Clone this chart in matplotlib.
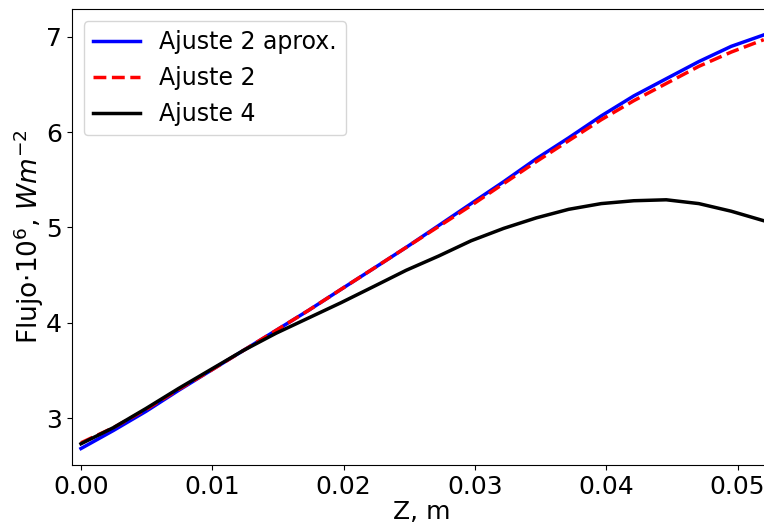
import matplotlib
matplotlib.use("Agg")
import matplotlib.pyplot as plt

z = [0.0, 0.00248, 0.00495, 0.00743, 0.0099, 0.01238, 0.01486, 0.01733,
     0.0198, 0.02229, 0.02476, 0.02724, 0.02971, 0.03219, 0.03467, 0.03714,
     0.03962, 0.0421, 0.04457, 0.04705, 0.04952, 0.052]

ajuste2_aprox = [2.68, 2.87, 3.07, 3.29, 3.50, 3.71, 3.92, 4.13, 4.35, 4.57, 4.79,
                 5.02, 5.25, 5.48, 5.72, 5.94, 6.17, 6.38, 6.56, 6.74, 6.90, 7.02]
ajuste2 = [2.74, 2.90, 3.09, 3.30, 3.50, 3.71, 3.92, 4.13, 4.35, 4.57, 4.79,
           5.01, 5.23, 5.46, 5.69, 5.91, 6.13, 6.33, 6.51, 6.69, 6.84, 6.97]
ajuste4 = [2.73, 2.90, 3.10, 3.31, 3.51, 3.71, 3.89, 4.05, 4.21, 4.38, 4.55,
           4.70, 4.86, 4.99, 5.10, 5.19, 5.25, 5.28, 5.29, 5.25, 5.17, 5.07]

fig = plt.figure(figsize=(7.64, 5.27), dpi=100)
ax = fig.add_axes([0.0942, 0.1176, 0.915, 0.865])

ax.plot(z, ajuste2_aprox, color="blue", lw=2.5, label="Ajuste 2 aprox.")
ax.plot(z, ajuste2, color="red", lw=2.5, ls="--", label="Ajuste 2")
ax.plot(z, ajuste4, color="black", lw=2.5, label="Ajuste 4")

ax.set_xlim(-0.000686, 0.05255)
ax.set_ylim(2.507, 7.29)
ax.set_xticks([0.0, 0.01, 0.02, 0.03, 0.04, 0.05])
ax.set_yticks([3, 4, 5, 6, 7])
ax.tick_params(labelsize=18)

ax.set_xlabel("Z, m", fontsize=18, labelpad=1)
ax.set_ylabel(r"Flujo$\cdot10^6$, $Wm^{-2}$", fontsize=19, labelpad=0)
ax.legend(loc="upper left", fontsize=17)

fig.savefig("out.png", dpi=100)
